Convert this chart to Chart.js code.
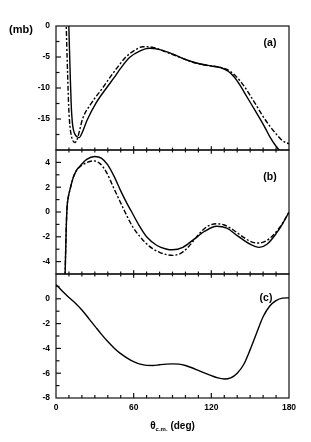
<!DOCTYPE html>
<html><head><meta charset="utf-8">
<script src="https://cdn.jsdelivr.net/npm/chart.js@4/dist/chart.umd.min.js"></script>
<style>html,body{margin:0;padding:0;background:#fff;}#wrap{width:311px;height:442px;position:relative;}</style>
</head><body><div id="wrap"><canvas id="c"></canvas></div>
<script>
// Panel (a)
const aSolidDeg = [9.8,10.3,11,11.8,12.6,13.5,15,16.5,18,20,24,31,39,45,50,57,65,72,80,90,100,110,120,127,133,138,142,146,150,154,158,162,165,170,174];
const aSolidVal = [1,-3,-8,-13,-15.5,-16.8,-17.6,-17.9,-18.0,-17.3,-15.2,-12.4,-10,-8.3,-6.8,-5.05,-4.0,-3.6,-3.8,-4.5,-5.4,-6.05,-6.45,-6.7,-7.3,-8.3,-9.5,-10.9,-12.3,-13.7,-15.1,-16.6,-17.8,-19.4,-20.4];
const aDashDeg = [7.8,8.3,9,9.8,10.5,11.5,12.8,14.7,16.5,18.5,20.5,27.5,36,42,47,54,61,67,75,85,95,105,115,125,132,138,142,146,150,155,160,165,170,175,180];
const aDashVal = [1,-3,-8,-13,-15.5,-17.3,-18.4,-18.8,-18.2,-16.6,-15,-12.4,-10,-8.2,-6.8,-5.0,-3.9,-3.35,-3.45,-4.2,-5.0,-5.8,-6.3,-6.6,-7.0,-7.9,-8.8,-9.9,-11.2,-12.9,-14.6,-16.1,-17.4,-18.5,-19.0];
// Panel (b)
const bSolidDeg = [7,7.5,8,8.5,9.5,10.8,12,13.4,15.5,18.5,23.7,30,35,40,45,50,55,58.5,64,70,78,85,90,98,106,115,124,132,140,150,157,163,170,175,180];
const bSolidVal = [-5.2,-3,-1,0.3,1.2,1.8,2.3,2.8,3.3,3.7,4.25,4.48,4.35,3.8,2.85,1.7,0.65,0,-1.05,-2.0,-2.7,-2.98,-3.05,-2.85,-2.25,-1.55,-1.15,-1.3,-1.9,-2.6,-2.85,-2.6,-1.75,-0.95,0];
const bDashDeg = [7,7.5,8,8.5,9.5,10.8,12,13.4,15.5,18.5,23.7,29,34,39,44.3,49,53.3,59,65,72,80,90,96,101,106,112,118,124,130,137,145,152,157,162,167,172,176,180];
const bDashVal = [-5.2,-3,-1,0.3,1.2,1.8,2.3,2.8,3.3,3.65,3.98,4.12,3.9,3.2,2.0,0.95,0,-1.15,-2.0,-2.75,-3.25,-3.5,-3.35,-2.95,-2.35,-1.6,-1.1,-0.95,-1.05,-1.45,-2.05,-2.45,-2.5,-2.35,-1.95,-1.35,-0.75,0];
// Panel (c)
const cDeg = [0,5,10,15,20,25,30,35,40,45,50,55,60,65,70,75,80,85,90,95,100,105,110,115,120,125,130,135,140,145,150,155,160,165,170,175,180];
const cVal = [1.15,0.6,0.1,-0.35,-0.9,-1.55,-2.2,-2.85,-3.45,-3.98,-4.42,-4.78,-5.07,-5.27,-5.37,-5.38,-5.32,-5.27,-5.25,-5.27,-5.38,-5.56,-5.78,-6.0,-6.2,-6.38,-6.47,-6.38,-6.0,-5.3,-4.1,-2.75,-1.45,-0.6,-0.15,0.05,0.08];
// Tick labels
const xTickLabels = [0,60,120,180];
const aTickLabels = [0,-5,-10,-15];
const bTickLabels = [4,2,0,-2,-4];
const cTickLabels = [0,-2,-4,-6,-8];
const panelLabels = ['(a)','(b)','(c)'];

const pts = (xs, ys) => xs.map((x, i) => ({x, y: ys[i]}));
const FONT = '"Liberation Sans", Arial, sans-serif';

function ds(xs, ys, axis, dashed) {
  return {data: pts(xs, ys), yAxisID: axis, borderColor: '#000', borderWidth: 1.4,
    borderDash: dashed ? [5,2,2,2] : [], pointRadius: 0, showLine: true,
    cubicInterpolationMode: 'monotone', fill: false};
}

const clipPlugin = {
  id: 'clipPanels',
  beforeDatasetDraw(chart, args) {
    const d = chart.data.datasets[args.index];
    const ys = chart.scales[d.yAxisID];
    const ca = chart.chartArea;
    chart.ctx.save();
    chart.ctx.beginPath();
    chart.ctx.rect(ca.left, ys.top, ca.right - ca.left, ys.bottom - ys.top);
    chart.ctx.clip();
  },
  afterDatasetDraw(chart) { chart.ctx.restore(); }
};

const framePlugin = {
  id: 'frame',
  afterDraw(chart) {
    const ctx = chart.ctx, ca = chart.chartArea, xs = chart.scales.x;
    const ids = ['ya','yb','yc'];
    ctx.save();
    ctx.strokeStyle = '#111';
    ctx.lineWidth = 1.2;
    ids.forEach(id => {
      const s = chart.scales[id];
      ctx.strokeRect(ca.left, s.top, ca.right - ca.left, s.bottom - s.top);
      const majorStep = id === 'ya' ? 5 : 2;
      s.ticks.forEach(t => {
        const y = s.getPixelForValue(t.value);
        if (Math.abs(y - s.top) < 1 || Math.abs(y - s.bottom) < 1) return;
        const isMajor = Math.abs(t.value / majorStep - Math.round(t.value / majorStep)) < 1e-6;
        const len = isMajor ? 5 : 3.5;
        ctx.beginPath(); ctx.moveTo(ca.left, y); ctx.lineTo(ca.left + len, y); ctx.stroke();
      });
    });
    const bounds = [chart.scales.ya.bottom, chart.scales.yb.bottom];
    xs.ticks.forEach(t => {
      if (t.value <= 0 || t.value >= 180) return;
      const x = xs.getPixelForValue(t.value);
      const isMajor = t.value % 60 === 0;
      bounds.forEach(by => {
        const h = isMajor ? 3.8 : 2.4;
        ctx.beginPath(); ctx.moveTo(x, by - h); ctx.lineTo(x, by + h); ctx.stroke();
      });
      const bb = chart.scales.yc.bottom;
      const h2 = isMajor ? 5 : 3;
      ctx.beginPath(); ctx.moveTo(x, bb); ctx.lineTo(x, bb - h2); ctx.stroke();
    });
    ctx.fillStyle = '#000';
    ctx.textAlign = 'center';
    ctx.textBaseline = 'middle';
    ctx.font = 'bold 11px ' + FONT;
    ctx.fillText('(mb)', 21, 29.5);
    ctx.font = 'bold 10.5px ' + FONT;
    ctx.fillText(panelLabels[0], 270, 43);
    ctx.fillText(panelLabels[1], 270, 177);
    ctx.fillText(panelLabels[2], 266, 298);
    const cx = (ca.left + ca.right) / 2, ty = 426;
    const f1 = 'bold 10px ' + FONT, f2 = 'bold 6px ' + FONT;
    ctx.font = f1; const w1 = ctx.measureText('θ').width; const w3 = ctx.measureText(' (deg)').width;
    ctx.font = f2; const w2 = ctx.measureText('c.m.').width;
    let x0 = cx - (w1 + w2 + w3) / 2;
    ctx.textAlign = 'left';
    ctx.font = f1; ctx.fillText('θ', x0, ty);
    ctx.font = f2; ctx.fillText('c.m.', x0 + w1, ty + 3.5);
    ctx.font = f1; ctx.fillText(' (deg)', x0 + w1 + w2, ty);
    ctx.restore();
  }
};

function yAxis(min, max, step, labels) {
  return {
    type: 'linear', position: 'left', stack: 'panels', stackWeight: 1,
    min, max, grid: {display: false, drawTicks: false}, border: {display: false},
    afterFit: s => { s.width = 56; },
    ticks: {stepSize: step, padding: 6, color: '#000', font: {family: FONT, size: 8.5, weight: 'bold'},
      autoSkip: false,
      callback: v => labels.some(l => Math.abs(l - v) < 1e-6) ? String(v) : ''}
  };
}

new Chart(document.getElementById('c'), {
  type: 'scatter',
  data: {datasets: [
    ds(aSolidDeg, aSolidVal, 'ya', false),
    ds(aDashDeg, aDashVal, 'ya', true),
    ds(bSolidDeg, bSolidVal, 'yb', false),
    ds(bDashDeg, bDashVal, 'yb', true),
    ds(cDeg, cVal, 'yc', false)
  ]},
  options: {
    responsive: true, maintainAspectRatio: false, animation: false, devicePixelRatio: 1,
    layout: {padding: {top: 26, right: 22, left: 0, bottom: 0}},
    plugins: {legend: {display: false}, tooltip: {enabled: false}},
    scales: {
      x: {type: 'linear', position: 'bottom', min: 0, max: 180,
        grid: {display: false, drawTicks: false}, border: {display: false},
        afterFit: s => { s.height = 44; },
        ticks: {stepSize: 10, autoSkip: false, maxRotation: 0, padding: 5, color: '#000',
          font: {family: FONT, size: 8.5, weight: 'bold'},
          callback: v => xTickLabels.includes(v) ? String(v) : ''}},
      yc: yAxis(-8, 2, 1, cTickLabels),
      yb: yAxis(-5, 5, 1, bTickLabels),
      ya: yAxis(-20, 0, 2.5, aTickLabels)
    }
  },
  plugins: [clipPlugin, framePlugin]
});
</script>
</body></html>
